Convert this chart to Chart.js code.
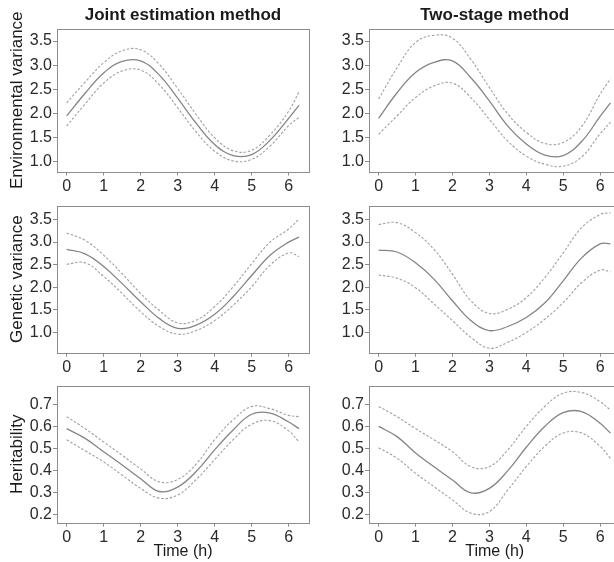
<!DOCTYPE html>
<html>
<head>
<meta charset="utf-8">
<script src="https://cdn.jsdelivr.net/npm/chart.js@4.4.0/dist/chart.umd.min.js"></script>
<style>
  html, body { margin: 0; padding: 0; background: #fff; width: 614px; height: 562px; overflow: hidden; position: relative; }
  canvas { position: absolute; }
</style>
</head>
<body>
<canvas id="envJoint" width="312" height="200" style="left:0;top:0"></canvas>
<canvas id="envTwo" width="312" height="200" style="left:312px;top:0"></canvas>
<canvas id="genJoint" width="312" height="172" style="left:0;top:200px"></canvas>
<canvas id="genTwo" width="312" height="172" style="left:312px;top:200px"></canvas>
<canvas id="herJoint" width="312" height="190" style="left:0;top:372px"></canvas>
<canvas id="herTwo" width="312" height="190" style="left:312px;top:372px"></canvas>
<script>
// time points (h) shared by all curves
const timeH = [0, 0.5, 1, 1.5, 2, 2.5, 3, 3.5, 4, 4.5, 5, 5.5, 6, 6.28];

// Environmental variance
const envJointEst = [1.95, 2.42, 2.84, 3.08, 3.09, 2.80, 2.32, 1.80, 1.36, 1.13, 1.15, 1.45, 1.90, 2.17];
const envJointHi  = [2.22, 2.65, 3.05, 3.30, 3.32, 3.02, 2.52, 1.98, 1.50, 1.23, 1.24, 1.56, 2.05, 2.45];
const envJointLo  = [1.74, 2.20, 2.63, 2.88, 2.90, 2.60, 2.12, 1.62, 1.22, 1.02, 1.05, 1.33, 1.75, 1.92];
const envTwoEst   = [1.90, 2.43, 2.85, 3.06, 3.09, 2.74, 2.26, 1.74, 1.37, 1.14, 1.13, 1.42, 1.94, 2.22];
const envTwoHi    = [2.30, 2.95, 3.47, 3.62, 3.56, 3.12, 2.54, 1.99, 1.61, 1.38, 1.40, 1.73, 2.40, 2.72];
const envTwoLo    = [1.57, 1.95, 2.33, 2.57, 2.63, 2.33, 1.88, 1.43, 1.12, 0.95, 0.91, 1.10, 1.58, 1.82];

// Genetic variance
const genJointEst = [2.84, 2.74, 2.46, 2.08, 1.68, 1.31, 1.09, 1.16, 1.40, 1.79, 2.26, 2.71, 3.00, 3.11];
const genJointHi  = [3.20, 3.04, 2.71, 2.30, 1.86, 1.49, 1.21, 1.27, 1.57, 2.01, 2.52, 3.00, 3.29, 3.51];
const genJointLo  = [2.51, 2.54, 2.24, 1.86, 1.46, 1.13, 0.96, 1.04, 1.26, 1.60, 2.01, 2.49, 2.76, 2.68];
const genTwoEst   = [2.82, 2.78, 2.54, 2.18, 1.70, 1.26, 1.04, 1.13, 1.33, 1.65, 2.14, 2.65, 2.96, 2.96];
const genTwoHi    = [3.39, 3.43, 3.21, 2.84, 2.29, 1.70, 1.42, 1.51, 1.77, 2.21, 2.76, 3.32, 3.61, 3.65];
const genTwoLo    = [2.27, 2.20, 1.99, 1.63, 1.26, 0.89, 0.65, 0.78, 1.00, 1.29, 1.66, 2.10, 2.38, 2.34];

// Heritability
const herJointEst = [0.590, 0.546, 0.486, 0.426, 0.364, 0.306, 0.326, 0.396, 0.494, 0.584, 0.655, 0.660, 0.620, 0.590];
const herJointHi  = [0.644, 0.590, 0.530, 0.470, 0.408, 0.350, 0.360, 0.430, 0.540, 0.630, 0.690, 0.680, 0.650, 0.644];
const herJointLo  = [0.540, 0.490, 0.440, 0.380, 0.320, 0.276, 0.290, 0.360, 0.450, 0.540, 0.610, 0.626, 0.580, 0.530];
const herTwoEst   = [0.600, 0.554, 0.480, 0.418, 0.358, 0.300, 0.320, 0.400, 0.506, 0.600, 0.662, 0.667, 0.614, 0.570];
const herTwoHi    = [0.690, 0.644, 0.590, 0.540, 0.486, 0.418, 0.418, 0.494, 0.600, 0.690, 0.750, 0.753, 0.712, 0.674];
const herTwoLo    = [0.504, 0.456, 0.388, 0.328, 0.268, 0.208, 0.215, 0.313, 0.418, 0.510, 0.570, 0.570, 0.510, 0.456];

// tick labels
const timeTicks = [0, 1, 2, 3, 4, 5, 6];
const varTicks = [1.0, 1.5, 2.0, 2.5, 3.0, 3.5];
const herTicks = [0.2, 0.3, 0.4, 0.5, 0.6, 0.7];

const FONT = "'Liberation Sans', Arial, Helvetica, sans-serif";
const AXIS_GREY = '#8c8c8c';

// box around the plotting region, like R's box()
const framePlugin = {
  id: 'frame',
  afterDraw(chart) {
    const { ctx, chartArea: a } = chart;
    ctx.save();
    ctx.strokeStyle = AXIS_GREY;
    ctx.lineWidth = 1;
    ctx.strokeRect(Math.round(a.left) + 0.5, Math.round(a.top) + 0.5,
      Math.round(a.right - a.left), Math.round(a.bottom - a.top));
    ctx.restore();
  }
};

function toPoints(ys) {
  return timeH.map((t, i) => ({ x: t, y: ys[i] }));
}

function makePanel(id, p) {
  const line = (ys, dashed) => ({
    data: toPoints(ys),
    borderColor: dashed ? '#a0a0a0' : '#858585',
    borderWidth: dashed ? 1.1 : 1.3,
    borderDash: dashed ? [2.5, 1.8] : [],
    pointRadius: 0,
    tension: 0.4,
    fill: false
  });

  new Chart(document.getElementById(id), {
    type: 'line',
    data: { datasets: [line(p.hi, true), line(p.lo, true), line(p.est, false)] },
    options: {
      responsive: false,
      animation: false,
      events: [],
      layout: { padding: { top: p.padTop, right: p.padRight, bottom: 0, left: 0 } },
      plugins: {
        legend: { display: false },
        tooltip: { enabled: false },
        title: {
          display: !!p.title,
          text: p.title || '',
          fullSize: false,
          color: '#1a1a1a',
          font: { family: FONT, size: 17, weight: 'bold', lineHeight: 1.2 },
          padding: { top: 5, bottom: 3.6 }
        }
      },
      scales: {
        x: {
          type: 'linear',
          min: -0.26,
          max: 6.55,
          afterBuildTicks: s => { s.ticks = timeTicks.map(v => ({ value: v })); },
          afterFit: s => { s.height = p.xHeight; s.paddingLeft = 0; s.paddingRight = 0; },
          border: { display: false },
          grid: { drawOnChartArea: false, drawTicks: true, tickLength: 4, tickColor: AXIS_GREY },
          ticks: {
            color: '#2a2a2a',
            font: { family: FONT, size: 16 },
            padding: 1,
            maxRotation: 0,
            autoSkip: false,
            callback: v => String(v)
          },
          title: {
            display: !!p.xLabel,
            text: p.xLabel || '',
            color: '#1a1a1a',
            font: { family: FONT, size: 16, lineHeight: 1.2 },
            padding: { top: 0, bottom: 1 }
          }
        },
        y: {
          min: p.yMin,
          max: p.yMax,
          afterBuildTicks: s => { s.ticks = p.yTicks.map(v => ({ value: v })); },
          afterFit: s => { s.width = 57; s.paddingTop = 0; s.paddingBottom = 0; },
          border: { display: false },
          grid: { drawOnChartArea: false, drawTicks: true, tickLength: 4, tickColor: AXIS_GREY },
          ticks: {
            color: '#2a2a2a',
            font: { family: FONT, size: 16 },
            padding: 1,
            autoSkip: false,
            callback: v => v.toFixed(1)
          },
          title: {
            display: !!p.yLabel,
            text: p.yLabel || '',
            color: '#1a1a1a',
            font: { family: FONT, size: 17, lineHeight: 1.2 },
            padding: { top: 7, bottom: 0 }
          }
        }
      }
    },
    plugins: [framePlugin]
  });
}

makePanel('envJoint', {
  est: envJointEst, hi: envJointHi, lo: envJointLo,
  yMin: 0.80, yMax: 3.75, yTicks: varTicks,
  title: 'Joint estimation method', yLabel: 'Environmental variance',
  padTop: 0, padRight: 3, xHeight: 28.5
});
makePanel('envTwo', {
  est: envTwoEst, hi: envTwoHi, lo: envTwoLo,
  yMin: 0.80, yMax: 3.75, yTicks: varTicks,
  title: 'Two-stage method',
  padTop: 0, padRight: 3.6, xHeight: 28.5
});
makePanel('genJoint', {
  est: genJointEst, hi: genJointHi, lo: genJointLo,
  yMin: 0.55, yMax: 3.81, yTicks: varTicks,
  yLabel: 'Genetic variance',
  padTop: 5.5, padRight: 3, xHeight: 19.3
});
makePanel('genTwo', {
  est: genTwoEst, hi: genTwoHi, lo: genTwoLo,
  yMin: 0.55, yMax: 3.81, yTicks: varTicks,
  padTop: 5.5, padRight: 3.6, xHeight: 19.3
});
makePanel('herJoint', {
  est: herJointEst, hi: herJointHi, lo: herJointLo,
  yMin: 0.165, yMax: 0.784, yTicks: herTicks,
  yLabel: 'Heritability', xLabel: 'Time (h)',
  padTop: 13.7, padRight: 3, xHeight: 39.3
});
makePanel('herTwo', {
  est: herTwoEst, hi: herTwoHi, lo: herTwoLo,
  yMin: 0.165, yMax: 0.784, yTicks: herTicks,
  xLabel: 'Time (h)',
  padTop: 13.7, padRight: 3.6, xHeight: 39.3
});
</script>
</body>
</html>
